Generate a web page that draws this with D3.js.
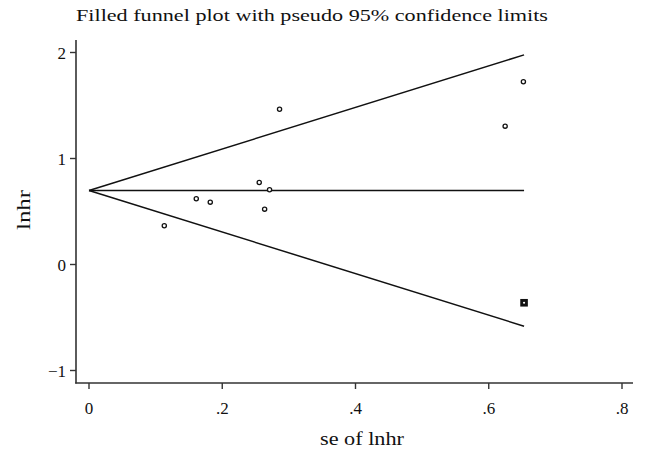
<!DOCTYPE html>
<html><head><meta charset="utf-8">
<script src="https://cdn.jsdelivr.net/npm/d3@7"></script>
<style>body{margin:0;background:#fff}svg{display:block}text{font-family:'Liberation Serif','Times New Roman',Times,serif;fill:#111}</style>
</head><body>
<svg id="c" width="648" height="461"></svg>
<script>
// Study data (se of lnhr, lnhr)
const seObserved   = [0.113, 0.161, 0.182, 0.2555, 0.2636, 0.271, 0.286, 0.6246, 0.652];
const lnhrObserved = [0.365, 0.620, 0.588, 0.774, 0.522, 0.705, 1.465, 1.305, 1.724];
// Filled (imputed) study
const seFilled   = [0.653];
const lnhrFilled = [-0.361];
// Pooled estimate and funnel extent
const pooled = 0.698;
const seMax = 0.653;
const xTicks = [0, 0.2, 0.4, 0.6, 0.8];
const xTickLabels = ["0", ".2", ".4", ".6", ".8"];
const yTicks = [-1, 0, 1, 2];
const yTickLabels = ["\u22121", "0", "1", "2"];
const title = "Filled funnel plot with pseudo 95% confidence limits";
const xTitle = "se of lnhr";
const yTitle = "lnhr";

const svg = d3.select("#c");
const x = d3.scaleLinear().domain([0, 0.8]).range([89, 622]);
const y = d3.scaleLinear().domain([-1, 2]).range([370.5, 52.5]);
const axisColor = "#333";
const FONT = "'Liberation Serif','Times New Roman',Times,serif";

// axes lines
svg.append("line").attr("x1", 76).attr("x2", 76).attr("y1", 40).attr("y2", 383.5)
  .attr("stroke", axisColor).attr("stroke-width", 1.6);
svg.append("line").attr("x1", 75.2).attr("x2", 633).attr("y1", 383).attr("y2", 383)
  .attr("stroke", axisColor).attr("stroke-width", 1.6);

// x axis ticks
const xg = svg.append("g");
xTicks.forEach((t, i) => {
  xg.append("line").attr("x1", x(t)).attr("x2", x(t)).attr("y1", 383).attr("y2", 389)
    .attr("stroke", axisColor).attr("stroke-width", 1.4);
  xg.append("text").attr("x", x(t)).attr("y", 414).attr("text-anchor", "middle")
    .attr("font-family", FONT).attr("font-size", 17).text(xTickLabels[i]);
});
// y axis ticks
const yg = svg.append("g");
yTicks.forEach((t, i) => {
  yg.append("line").attr("x1", 70).attr("x2", 76).attr("y1", y(t)).attr("y2", y(t))
    .attr("stroke", axisColor).attr("stroke-width", 1.4);
  yg.append("text").attr("x", 66).attr("y", y(t) + 6).attr("text-anchor", "end")
    .attr("font-family", FONT).attr("font-size", 17).text(yTickLabels[i]);
});

// funnel lines
const lineStyle = sel => sel.attr("stroke", "#111").attr("stroke-width", 1.5).attr("fill", "none");
svg.append("line").attr("x1", x(0)).attr("y1", y(pooled)).attr("x2", x(seMax)).attr("y2", y(pooled)).call(lineStyle);
svg.append("line").attr("x1", x(0)).attr("y1", y(pooled)).attr("x2", x(seMax)).attr("y2", y(pooled + 1.96 * seMax)).call(lineStyle);
svg.append("line").attr("x1", x(0)).attr("y1", y(pooled)).attr("x2", x(seMax)).attr("y2", y(pooled - 1.96 * seMax)).call(lineStyle);

// observed studies
svg.append("g").selectAll("circle").data(seObserved).join("circle")
  .attr("cx", d => x(d)).attr("cy", (d, i) => y(lnhrObserved[i])).attr("r", 2.1)
  .attr("fill", "#fff").attr("stroke", "#111").attr("stroke-width", 1.3);

// filled studies
const fg = svg.append("g");
seFilled.forEach((s, i) => {
  fg.append("rect").attr("x", x(s) - 3.8).attr("y", y(lnhrFilled[i]) - 3.8)
    .attr("width", 7.6).attr("height", 7.6).attr("fill", "#111");
  fg.append("circle").attr("cx", x(s)).attr("cy", y(lnhrFilled[i])).attr("r", 1.1).attr("fill", "#fff");
});

// titles
svg.append("text").attr("x", 76).attr("y", 21).attr("font-family", FONT).attr("font-size", 17.5)
  .attr("textLength", 472).attr("lengthAdjust", "spacingAndGlyphs").text(title);
svg.append("text").attr("x", 362).attr("y", 445).attr("text-anchor", "middle").attr("font-family", FONT).attr("font-size", 18)
  .attr("textLength", 84).attr("lengthAdjust", "spacingAndGlyphs").text(xTitle);
svg.append("text").attr("transform", "translate(30,210) rotate(-90)").attr("text-anchor", "middle").attr("font-family", FONT)
  .attr("font-size", 18).attr("textLength", 40).attr("lengthAdjust", "spacingAndGlyphs").text(yTitle);
</script>
</body></html>
